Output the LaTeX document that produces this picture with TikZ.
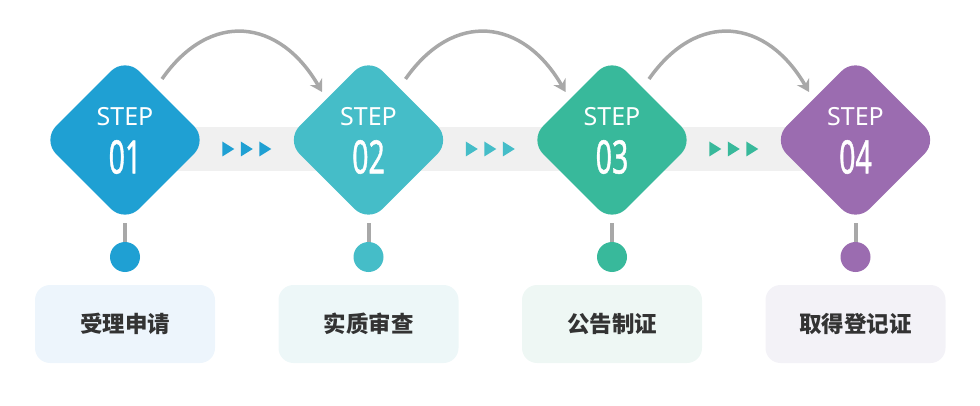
\documentclass[tikz,border=0pt]{standalone}
\usepackage{fontspec}
\setmainfont{Noto Sans}
\newfontfamily\cjk{Noto Sans CJK SC}
\usetikzlibrary{positioning,calc,arrows.meta,shapes.geometric,backgrounds}
\definecolor{stepa}{HTML}{1FA0D3}
\definecolor{stepb}{HTML}{45BDC8}
\definecolor{stepc}{HTML}{38B99B}
\definecolor{stepd}{HTML}{9B6CB0}
\definecolor{boxa}{HTML}{EDF5FC}
\definecolor{boxb}{HTML}{EDF7F8}
\definecolor{boxc}{HTML}{EEF7F4}
\definecolor{boxd}{HTML}{F3F2F7}
\definecolor{linegray}{HTML}{A8A8A8}
\definecolor{bandgray}{HTML}{F0F0F0}
\definecolor{textgray}{HTML}{333333}
\begin{document}
\begin{tikzpicture}[x=1pt,y=1pt,node distance=243.5pt,
    step node/.style={diamond,minimum width=166pt,minimum height=166pt,inner sep=0pt,rounded corners=20pt},
    step word/.style={text=white,font=\fontsize{25}{25}\selectfont,inner sep=0pt},
    step num/.style={text=white,font=\fontsize{46}{46}\selectfont\addfontfeatures{FakeBold=1.2},inner sep=0pt},
    dot node/.style={circle,minimum size=30pt,inner sep=0pt},
    label box/.style={rectangle,rounded corners=15pt,minimum width=180pt,minimum height=78pt,text=textgray,font=\fontsize{22.5}{22.5}\selectfont\cjk\bfseries},
    stem/.style={draw=linegray,line width=4pt},
    jump/.style={draw=linegray,line width=3.5pt,-{Stealth[length=12pt,width=14pt]}}]
    \useasboundingbox (0,0) rectangle (980,405);
    \node [step node, fill=stepa](d1) at (125,265){};
    \node [step node, fill=stepb](d2) [right of=d1]{};
    \node [step node, fill=stepc](d3) [right of=d2]{};
    \node [step node, fill=stepd](d4) [right of=d3]{};

    \foreach \i in {1,...,4}{
        \node [step word](w\i) at ($(d\i)+(0,23)$){STEP};
        \node [step num](n\i) at ($(d\i)+(0,-17)$){\scalebox{0.62}[1]{0\i}};
    }

    \node [dot node, fill=stepa](c1) [below of=d1, node distance=117pt]{};
    \node [dot node, fill=stepb](c2) [below of=d2, node distance=117pt]{};
    \node [dot node, fill=stepc](c3) [below of=d3, node distance=117pt]{};
    \node [dot node, fill=stepd](c4) [below of=d4, node distance=117pt]{};

    \node [label box, fill=boxa](b1) [below of=c1, node distance=67pt]{受理申请};
    \node [label box, fill=boxb](b2) [below of=c2, node distance=67pt]{实质审查};
    \node [label box, fill=boxc](b3) [below of=c3, node distance=67pt]{公告制证};
    \node [label box, fill=boxd](b4) [below of=c4, node distance=67pt]{取得登记证};

    \begin{pgfonlayer}{background}
        \fill[bandgray] ($(d1)+(0,-31)$) rectangle ($(d4)+(0,13)$);
        \path[stem] (d1) edge (c1) (d2) edge (c2) (d3) edge (c3) (d4) edge (c4);
    \end{pgfonlayer}

    \foreach \a/\b/\c in {d1/d2/stepa,d2/d3/stepb,d3/d4/stepc}{
        \foreach \dx in {-18.5,0,18.5}
            \fill[\c] ($(\a)!0.5!(\b)+(\dx-6,-16.5)$) -- ++(0,15) -- ++(12,-7.5) -- cycle;
        \coordinate (s\a) at ($(\a)+(37,61)$);
        \coordinate (e\a) at ($(\b)+(-46.5,48)$);
        \path[jump] (s\a) to[out=55,in=120,looseness=1.35] (e\a);
    }
\end{tikzpicture}
\end{document}
